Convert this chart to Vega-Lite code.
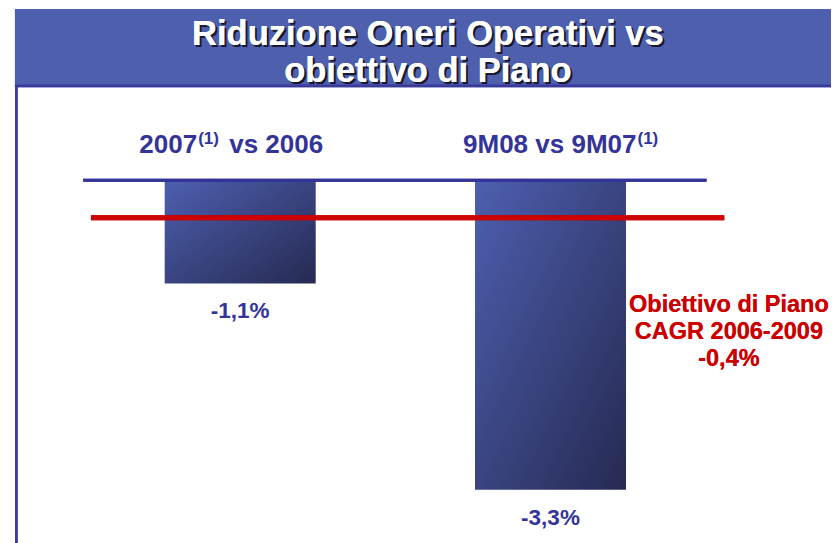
{
  "$schema": "https://vega.github.io/schema/vega-lite/v6.json",
  "width": 836,
  "height": 543,
  "autosize": {"type": "none"},
  "padding": 0,
  "background": "white",
  "config": {"view": {"stroke": null}},
  "data": {"values": [
    {"periodo": "2007 vs 2006", "parte1": "2007", "nota": "(1)", "parte2": "vs 2006", "idx": 1, "variazione": -1.1, "testo": "-1,1%"},
    {"periodo": "9M08 vs 9M07", "parte1": "9M08 vs 9M07", "nota": "(1)", "parte2": "", "idx": 2, "variazione": -3.3, "testo": "-3,3%"}
  ]},
  "encoding": {
    "x": {"field": "idx", "type": "quantitative", "scale": {"domain": [0.242, 2.904], "nice": false, "zero": false}, "axis": null},
    "y": {"field": "variazione", "type": "quantitative", "scale": {"domain": [-3.867, 1.922], "nice": false, "zero": false}, "axis": null}
  },
  "layer": [
    {
      "mark": {"type": "rect", "color": "#4e5fad"},
      "encoding": {
        "x": {"datum": 0.274}, "x2": {"datum": 2.904},
        "y": {"datum": 1.826}, "y2": {"datum": 1.005}
      }
    },
    {
      "mark": {"type": "rule", "color": "#3a3a9c", "strokeWidth": 2.5},
      "encoding": {"x": {"datum": 0.274}, "x2": {"datum": 2.904}, "y": {"datum": 1.005}}
    },
    {
      "mark": {"type": "rule", "color": "#3a3a9c", "strokeWidth": 2.5},
      "encoding": {"x": {"datum": 0.2787}, "y": {"datum": 1.005}, "y2": {"datum": -3.867}}
    },
    {
      "mark": {"type": "text", "text": ["Riduzione Oneri Operativi vs", "obiettivo di Piano"], "font": "Liberation Sans", "fontWeight": "bold", "fontSize": 34.5, "lineHeight": 37, "align": "center", "baseline": "alphabetic", "color": "#1a1a2e", "dx": 2, "dy": 2},
      "encoding": {"x": {"datum": 1.605}, "y": {"datum": 1.442}}
    },
    {
      "mark": {"type": "text", "text": ["Riduzione Oneri Operativi vs", "obiettivo di Piano"], "font": "Liberation Sans", "fontWeight": "bold", "fontSize": 34.5, "lineHeight": 37, "align": "center", "baseline": "alphabetic", "color": "white"},
      "encoding": {"x": {"datum": 1.605}, "y": {"datum": 1.442}}
    },
    {
      "mark": {"type": "bar", "width": 151, "color": {"gradient": "linear", "x1": 0, "y1": 0, "x2": 1, "y2": 1, "stops": [{"offset": 0, "color": "#4d5faf"}, {"offset": 1, "color": "#262a52"}]}},
      "encoding": {"y2": {"datum": 0}}
    },
    {
      "mark": {"type": "rule", "color": "#33339a", "strokeWidth": 3},
      "encoding": {"x": {"datum": 0.494}, "x2": {"datum": 2.503}, "y": {"datum": 0}}
    },
    {
      "mark": {"type": "rule", "color": "#cc0000", "strokeWidth": 5},
      "encoding": {"x": {"datum": 0.519}, "x2": {"datum": 2.56}, "y": {"datum": -0.4}}
    },
    {
      "transform": [{"filter": "datum.idx == 1"}],
      "layer": [
        {
          "mark": {"type": "text", "font": "Liberation Sans", "fontWeight": "bold", "fontSize": 26, "align": "right", "baseline": "alphabetic", "color": "#333399", "dx": -43},
          "encoding": {"text": {"field": "parte1"}, "y": {"datum": 0.291}}
        },
        {
          "mark": {"type": "text", "font": "Liberation Sans", "fontWeight": "bold", "fontSize": 17, "align": "left", "baseline": "alphabetic", "color": "#333399", "dx": -42, "dy": -9},
          "encoding": {"text": {"field": "nota"}, "y": {"datum": 0.291}}
        },
        {
          "mark": {"type": "text", "font": "Liberation Sans", "fontWeight": "bold", "fontSize": 26, "align": "left", "baseline": "alphabetic", "color": "#333399", "dx": -11},
          "encoding": {"text": {"field": "parte2"}, "y": {"datum": 0.291}}
        }
      ]
    },
    {
      "transform": [{"filter": "datum.idx == 2"}],
      "layer": [
        {
          "mark": {"type": "text", "font": "Liberation Sans", "fontWeight": "bold", "fontSize": 26, "align": "right", "baseline": "alphabetic", "color": "#333399", "dx": 86},
          "encoding": {"text": {"field": "parte1"}, "y": {"datum": 0.291}}
        },
        {
          "mark": {"type": "text", "font": "Liberation Sans", "fontWeight": "bold", "fontSize": 17, "align": "left", "baseline": "alphabetic", "color": "#333399", "dx": 87, "dy": -9},
          "encoding": {"text": {"field": "nota"}, "y": {"datum": 0.291}}
        }
      ]
    },
    {
      "mark": {"type": "text", "font": "Liberation Sans", "fontWeight": "bold", "fontSize": 22.5, "align": "center", "baseline": "alphabetic", "color": "#333399", "dy": 35},
      "encoding": {"text": {"field": "testo"}}
    },
    {
      "mark": {"type": "text", "text": ["Obiettivo di Piano", "CAGR 2006-2009", "-0,4%"], "font": "Liberation Sans", "fontWeight": "bold", "fontSize": 23.5, "lineHeight": 27, "align": "center", "baseline": "alphabetic", "color": "#cc0000"},
      "encoding": {"x": {"datum": 2.575}, "y": {"datum": -1.404}}
    }
  ]
}
